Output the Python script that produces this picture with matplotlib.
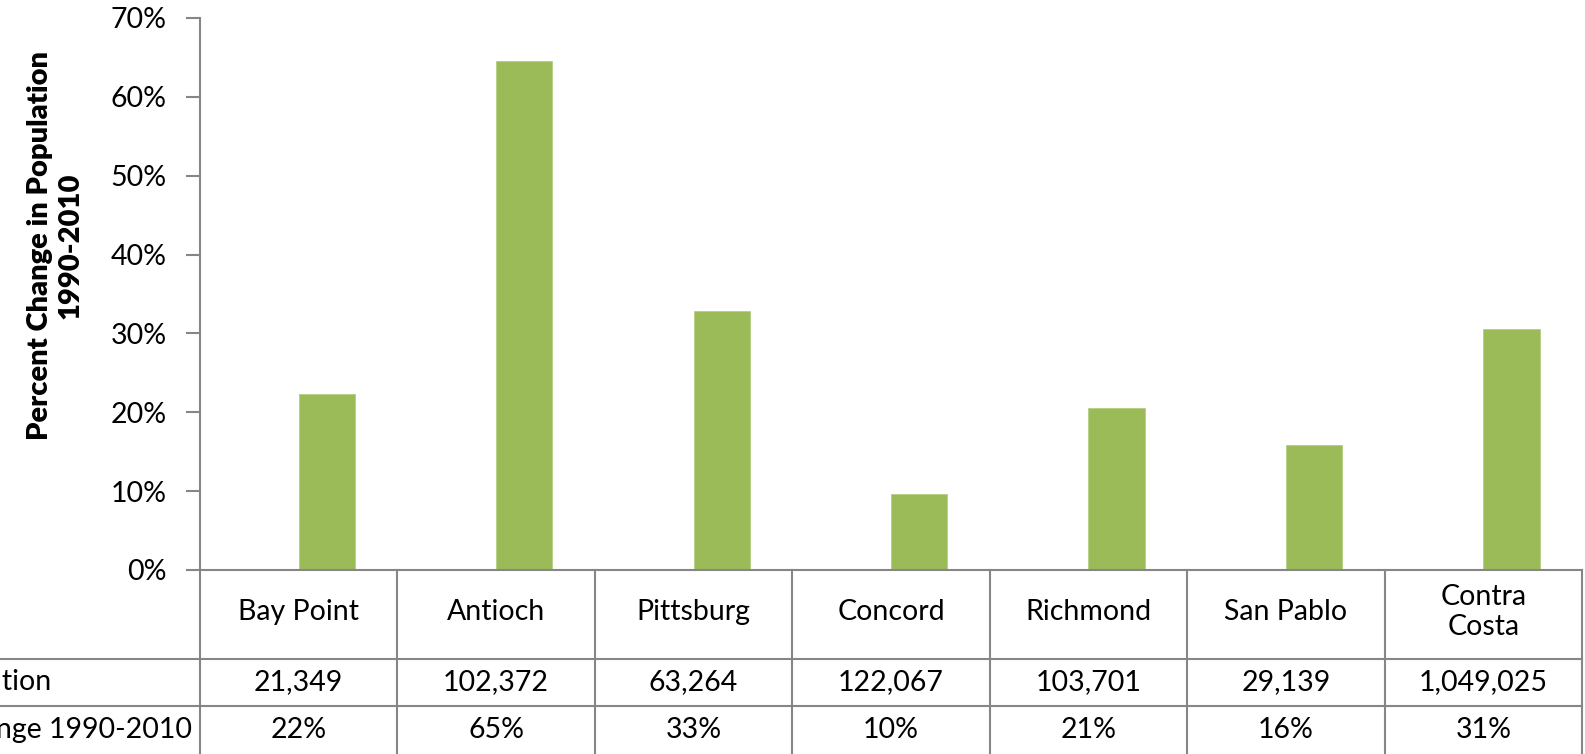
import matplotlib.pyplot as plt
import numpy as np

plt.rcParams['font.family'] = ['Lato', 'DejaVu Sans']

# data
cities = ['Bay Point', 'Antioch', 'Pittsburg', 'Concord', 'Richmond', 'San Pablo', 'Contra\nCosta']
pct_change = [22.3, 64.6, 32.8, 9.6, 20.5, 15.8, 30.5]
pop_2010 = ['21,349', '102,372', '63,264', '122,067', '103,701', '29,139', '1,049,025']
pct_labels = ['22%', '65%', '33%', '10%', '21%', '16%', '31%']
row_labels = ['2010 Population', 'Percent Change 1990-2010']

W, H = 1585, 754
FS = 20.5
fig = plt.figure(figsize=(W / 100, H / 100), dpi=100)
ax = fig.add_axes([200 / W, 1 - 570 / H, 1382 / W, 552 / H])

grey = '#868686'
x = np.arange(len(cities))
ax.bar(x, pct_change, width=0.285, align='edge', color='#9BBB59', edgecolor='#B5CF83', linewidth=0.6, zorder=2)

ax.set_xlim(-0.5, len(cities) - 0.5)
ax.set_ylim(0, 70)
ax.set_yticks(range(0, 71, 10))
ax.set_yticklabels([f'{v}%' for v in range(0, 71, 10)])
ax.set_xticks([])
ax.tick_params(axis='y', length=10, width=1.5, color=grey, pad=14, labelsize=FS)
for s in ['top', 'right']:
    ax.spines[s].set_visible(False)
for s in ['left', 'bottom']:
    ax.spines[s].set_color(grey)
    ax.spines[s].set_linewidth(1.5)

fig.text(55 / W, 1 - 246 / H, 'Percent Change in Population\n1990-2010', rotation=90,
         ha='center', va='center', fontsize=21, fontweight='heavy', linespacing=1.2)

# data table under the axis
def ay(py):
    return (570 - py) / 552

trans = ax.get_xaxis_transform()
for b in np.arange(-0.5, len(cities), 1.0):
    ax.plot([b, b], [0, ay(760)], transform=trans, color=grey, lw=1.5, clip_on=False)
for py in [659, 706]:
    fig.add_artist(plt.Line2D([0, 1582 / W], [1 - py / H, 1 - py / H], color=grey, lw=1.5))

for i in x:
    ax.text(i, ay(612), cities[i], transform=trans, ha='center', va='center', fontsize=FS, linespacing=1.15)
    ax.text(i, ay(682), pop_2010[i], transform=trans, ha='center', va='center', fontsize=FS)
    ax.text(i, ay(730), pct_labels[i], transform=trans, ha='center', va='center', fontsize=FS)

# row labels: left aligned, start off the canvas
t2 = fig.text(192 / W, 1 - 730 / H, row_labels[1], ha='right', va='center', fontsize=FS)
fig.canvas.draw()
x0 = t2.get_window_extent().x0
t2.set_ha('left')
t2.set_x(x0 / W)
fig.text(x0 / W, 1 - 682 / H, row_labels[0], ha='left', va='center', fontsize=FS)

fig.savefig('out.png', dpi=100)
